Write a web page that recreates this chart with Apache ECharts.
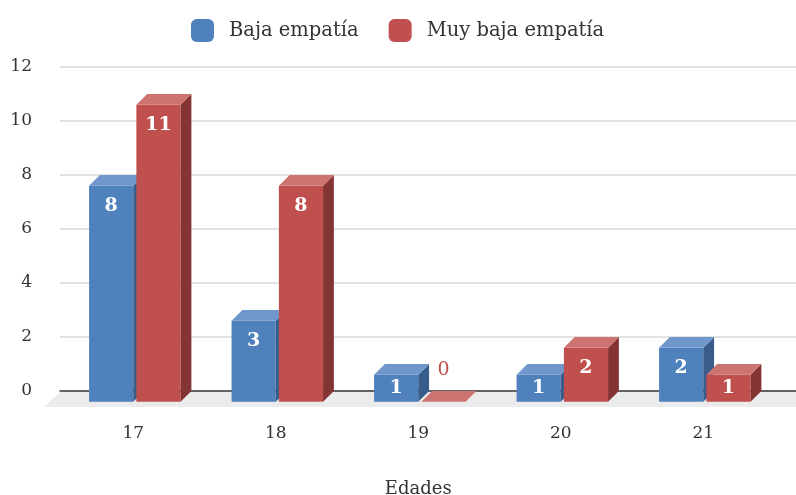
<!DOCTYPE html>
<html>
<head>
<meta charset="utf-8">
<script src="https://cdn.jsdelivr.net/npm/echarts@6/dist/echarts.min.js"></script>
<style>
  html, body { margin: 0; padding: 0; background: #fff; }
  #chart { width: 796px; height: 495px; }
</style>
</head>
<body>
<div id="chart"></div>
<script>
const edades = ['17', '18', '19', '20', '21']
const bajaEmpatia = [8, 3, 1, 1, 2]
const muyBajaEmpatia = [11, 8, 0, 2, 1]
const yTicks = { min: 0, max: 12, interval: 2 }

const FONT = 'DejaVu Serif'
const colors = [
  { front: '#4f81bd', top: '#7097cc', side: '#385d8a' },
  { front: '#c0504d', top: '#cd7371', side: '#843432' }
]

// one 3D-looking bar per item, placed left (0) or right (1) of the category centre
function bar3d(slot) {
  return function(params, api) {
    const cat = api.value(0)
    const v = api.value(1)
    const band = api.size([1, 0])[0]
    const base = api.coord([cat, 0])
    const tip = api.coord([cat, v])
    const w = band * 0.31
    const gap = band * 0.022
    const d = band * 0.076
    const x0 = slot === 0 ? base[0] - w : base[0] + gap
    const x1 = x0 + w
    const yb = base[1] + d
    const yt = tip[1] + d
    const c = colors[slot]
    const children = []
    if (v > 0) {
      children.push({ type: 'rect', shape: { x: x0, y: yt, width: w, height: yb - yt }, style: { fill: c.front } })
      children.push({ type: 'polygon', shape: { points: [[x1, yt], [x1 + d, yt - d], [x1 + d, yb - d], [x1, yb]] }, style: { fill: c.side } })
    }
    children.push({ type: 'polygon', shape: { points: [[x0, yt], [x0 + d, yt - d], [x1 + d, yt - d], [x1, yt]] }, style: { fill: c.top } })
    const cx = (x0 + x1) / 2
    if (v > 0) {
      const ly = Math.min(yt + 20, (yt + yb) / 2)
      children.push({ type: 'text', style: { text: String(v), x: cx, y: ly, fill: '#fff', font: '600 19px "' + FONT + '"', align: 'center', verticalAlign: 'middle' } })
    } else {
      children.push({ type: 'text', style: { text: String(v), x: cx, y: yt - d - 21, fill: '#c0504d', font: '19px "' + FONT + '"', align: 'center', verticalAlign: 'middle' } })
    }
    return { type: 'group', children: children }
  }
}

function floor(params, api) {
  const cs = params.coordSys
  const y = cs.y + cs.height
  const dep = 16
  return {
    type: 'polygon',
    shape: { points: [[cs.x, y + 1], [cs.x + cs.width + 40, y + 1], [cs.x + cs.width + 40 - dep, y + dep], [cs.x - dep, y + dep]] },
    style: { fill: '#ebebeb' }
  }
}

const chart = echarts.init(document.getElementById('chart'))
chart.setOption({
  animation: false,
  textStyle: { fontFamily: FONT },
  legend: {
    top: 14,
    left: 186,
    itemWidth: 23,
    itemHeight: 23,
    itemGap: 30,
    icon: 'roundRect',
    textStyle: { fontSize: 19.5, color: '#333', fontFamily: FONT, padding: [0, 0, 0, 10] },
    data: ['Baja empatía', 'Muy baja empatía']
  },
  grid: [
    { left: 60, right: 0, top: 67, bottom: 104, outerBoundsMode: 'none' },
    { left: 62, right: 21.5, top: 67, bottom: 104, outerBoundsMode: 'none' }
  ],
  xAxis: [
    {
      gridIndex: 0, type: 'value', min: 0, max: 1,
      axisLabel: { show: false }, axisTick: { show: false }, splitLine: { show: false },
      axisLine: { show: true, lineStyle: { color: '#3a3a3a', width: 1.5 } },
      z: 5
    },
    {
      gridIndex: 1, type: 'category', data: edades,
      axisLine: { show: false }, axisTick: { show: false },
      axisLabel: { margin: 34, fontSize: 17, color: '#333', fontFamily: FONT },
      name: 'Edades', nameLocation: 'middle', nameGap: 89,
      nameTextStyle: { fontSize: 18, color: '#333', fontFamily: FONT }
    }
  ],
  yAxis: [
    {
      gridIndex: 0, type: 'value', min: yTicks.min, max: yTicks.max, interval: yTicks.interval,
      axisLine: { show: false }, axisTick: { show: false },
      axisLabel: { margin: 28, fontSize: 17, color: '#333', fontFamily: FONT },
      splitLine: { lineStyle: { color: '#d9d9d9', width: 1.5 } }
    },
    {
      gridIndex: 1, type: 'value', min: yTicks.min, max: yTicks.max, interval: yTicks.interval,
      show: false
    }
  ],
  series: [
    {
      type: 'custom', name: 'floor', xAxisIndex: 0, yAxisIndex: 0,
      renderItem: floor, data: [[0, 0]], z: 1, silent: true
    },
    {
      type: 'custom', name: 'Baja empatía', xAxisIndex: 1, yAxisIndex: 1,
      itemStyle: { color: colors[0].front },
      renderItem: bar3d(0),
      encode: { x: 0, y: 1 },
      data: bajaEmpatia.map((v, i) => [i, v]),
      z: 10
    },
    {
      type: 'custom', name: 'Muy baja empatía', xAxisIndex: 1, yAxisIndex: 1,
      itemStyle: { color: colors[1].front },
      renderItem: bar3d(1),
      encode: { x: 0, y: 1 },
      data: muyBajaEmpatia.map((v, i) => [i, v]),
      z: 10
    }
  ]
})
</script>
</body>
</html>
